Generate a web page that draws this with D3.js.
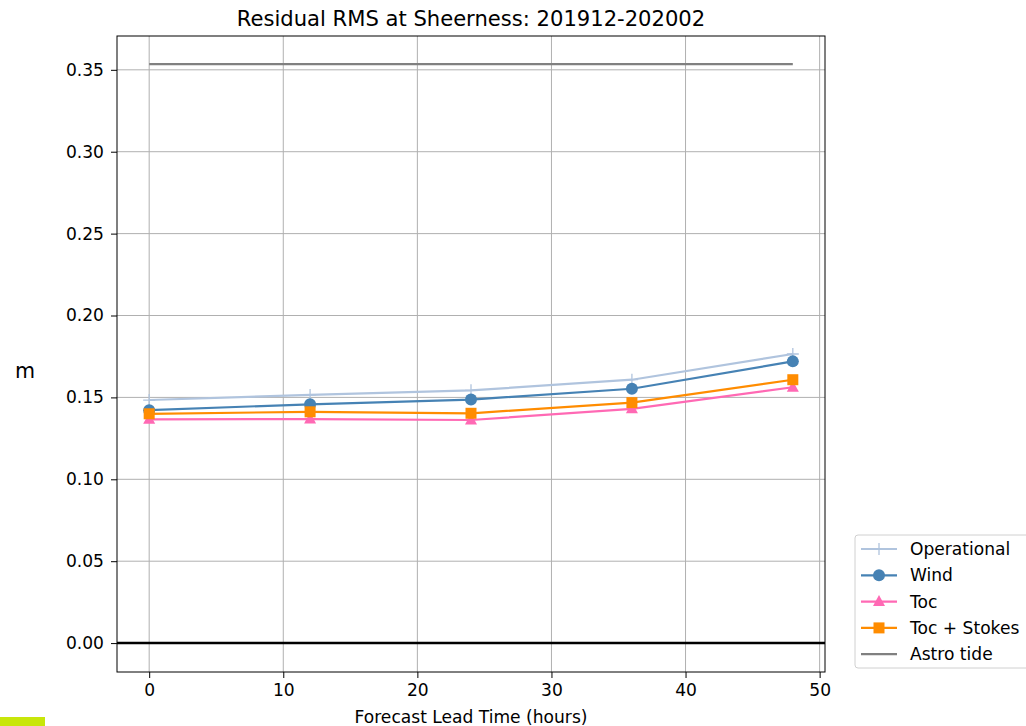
<!DOCTYPE html>
<html>
<head>
<meta charset="utf-8">
<script src="https://cdn.jsdelivr.net/npm/d3@7"></script>
<style>
  html, body { margin: 0; padding: 0; background: #fff; }
  svg { display: block; font-family: "DejaVu Sans", sans-serif; }
</style>
</head>
<body>
<svg id="chart" width="1026" height="726"></svg>
<script>
// Forecast lead times (hours)
const leadTimes = [0, 12, 24, 36, 48];

// Residual RMS (m) per configuration
const operational = [0.1484, 0.1515, 0.1543, 0.1608, 0.1765];
const wind        = [0.1422, 0.1458, 0.1487, 0.1553, 0.1720];
const toc         = [0.1366, 0.1368, 0.1362, 0.1430, 0.1562];
const tocStokes   = [0.1400, 0.1412, 0.1403, 0.1468, 0.1608];
const astroTide   = 0.3535;

const xTicks = [0, 10, 20, 30, 40, 50];
const yTicks = [0.00, 0.05, 0.10, 0.15, 0.20, 0.25, 0.30, 0.35];

const series = [
  { name: "Operational", values: operational, color: "#b0c4de", marker: "plus" },
  { name: "Wind", values: wind, color: "#4682b4", marker: "circle" },
  { name: "Toc", values: toc, color: "#ff69b4", marker: "triangle" },
  { name: "Toc + Stokes", values: tocStokes, color: "#ff8c00", marker: "square" }
];

const svg = d3.select("#chart");
const plotL = 117, plotR = 825, plotT = 36, plotB = 672;
const labelSize = 17.1;

const x = d3.scaleLinear().domain([-2.4, 50.4]).range([plotL, plotR]);
const y = d3.scaleLinear().domain([-0.01765, 0.37065]).range([plotB, plotT]);

// grid
const grid = svg.append("g");
grid.selectAll("line.gx").data(xTicks).join("line")
  .attr("x1", d => x(d)).attr("x2", d => x(d))
  .attr("y1", plotT).attr("y2", plotB)
  .attr("stroke", "#b0b0b0").attr("stroke-width", 1);
grid.selectAll("line.gy").data(yTicks).join("line")
  .attr("x1", plotL).attr("x2", plotR)
  .attr("y1", d => y(d)).attr("y2", d => y(d))
  .attr("stroke", "#b0b0b0").attr("stroke-width", 1);

// zero line
svg.append("line")
  .attr("x1", plotL).attr("x2", plotR)
  .attr("y1", y(0)).attr("y2", y(0))
  .attr("stroke", "#000").attr("stroke-width", 2.5);

// astro tide reference
svg.append("line")
  .attr("x1", x(leadTimes[0])).attr("x2", x(leadTimes[leadTimes.length - 1]))
  .attr("y1", y(astroTide)).attr("y2", y(astroTide))
  .attr("stroke", "#808080").attr("stroke-width", 2.2);

function drawMarker(g, type, cx, cy, color) {
  if (type === "circle") {
    g.append("circle").attr("cx", cx).attr("cy", cy).attr("r", 6).attr("fill", color);
  } else if (type === "square") {
    g.append("rect").attr("x", cx - 5.5).attr("y", cy - 5.5).attr("width", 11).attr("height", 11).attr("fill", color);
  } else if (type === "triangle") {
    g.append("path").attr("d", `M${cx},${cy - 6.5}L${cx + 6},${cy + 4.5}L${cx - 6},${cy + 4.5}Z`).attr("fill", color);
  } else if (type === "plus") {
    g.append("path").attr("d", `M${cx - 6},${cy}H${cx + 6}M${cx},${cy - 6}V${cy + 6}`)
      .attr("stroke", color).attr("stroke-width", 1.3).attr("fill", "none");
  }
}

const line = d3.line().x((d, i) => x(leadTimes[i])).y(d => y(d));
series.forEach(s => {
  const g = svg.append("g");
  g.append("path").datum(s.values).attr("d", line)
    .attr("fill", "none").attr("stroke", s.color).attr("stroke-width", 2.2);
  s.values.forEach((v, i) => drawMarker(g, s.marker, x(leadTimes[i]), y(v), s.color));
});

// frame
svg.append("rect").attr("x", plotL).attr("y", plotT)
  .attr("width", plotR - plotL).attr("height", plotB - plotT)
  .attr("fill", "none").attr("stroke", "#000").attr("stroke-width", 1);

// axes
const xAxis = svg.append("g").attr("transform", `translate(0,${plotB})`)
  .call(d3.axisBottom(x).tickValues(xTicks).tickFormat(d3.format("d")).tickSize(6).tickPadding(6));
const yAxis = svg.append("g").attr("transform", `translate(${plotL},0)`)
  .call(d3.axisLeft(y).tickValues(yTicks).tickFormat(d3.format(".2f")).tickSize(6).tickPadding(7));
[xAxis, yAxis].forEach(a => {
  a.select(".domain").remove();
  a.selectAll("text").attr("font-size", labelSize).attr("font-family", "DejaVu Sans, sans-serif").attr("fill", "#000");
  a.selectAll("line").attr("stroke", "#000");
});

// titles
svg.append("text").attr("x", (plotL + plotR) / 2).attr("y", 26)
  .attr("text-anchor", "middle").attr("font-size", 21.1).text("Residual RMS at Sheerness: 201912-202002");
svg.append("text").attr("x", (plotL + plotR) / 2).attr("y", 723)
  .attr("text-anchor", "middle").attr("font-size", labelSize).text("Forecast Lead Time (hours)");
svg.append("text").attr("x", 25).attr("y", 378)
  .attr("text-anchor", "middle").attr("font-size", 20.6).text("m");

// legend
const legendItems = series.map(s => ({ name: s.name, color: s.color, marker: s.marker }))
  .concat([{ name: "Astro tide", color: "#808080", marker: null }]);
const lg = svg.append("g");
lg.append("rect").attr("x", 855).attr("y", 535).attr("width", 180).attr("height", 133)
  .attr("rx", 3).attr("fill", "#fff").attr("stroke", "#d0d0d0").attr("stroke-width", 1);
legendItems.forEach((d, i) => {
  const cy = 549 + i * 26.3;
  lg.append("line").attr("x1", 861).attr("x2", 897).attr("y1", cy).attr("y2", cy)
    .attr("stroke", d.color).attr("stroke-width", 2.2);
  if (d.marker) drawMarker(lg, d.marker, 879, cy, d.color);
  lg.append("text").attr("x", 910).attr("y", cy + 6).attr("font-size", labelSize).text(d.name);
});

// corner marker
svg.append("rect").attr("x", 0).attr("y", 717).attr("width", 45).attr("height", 9).attr("fill", "#c8e60a");
</script>
</body>
</html>
